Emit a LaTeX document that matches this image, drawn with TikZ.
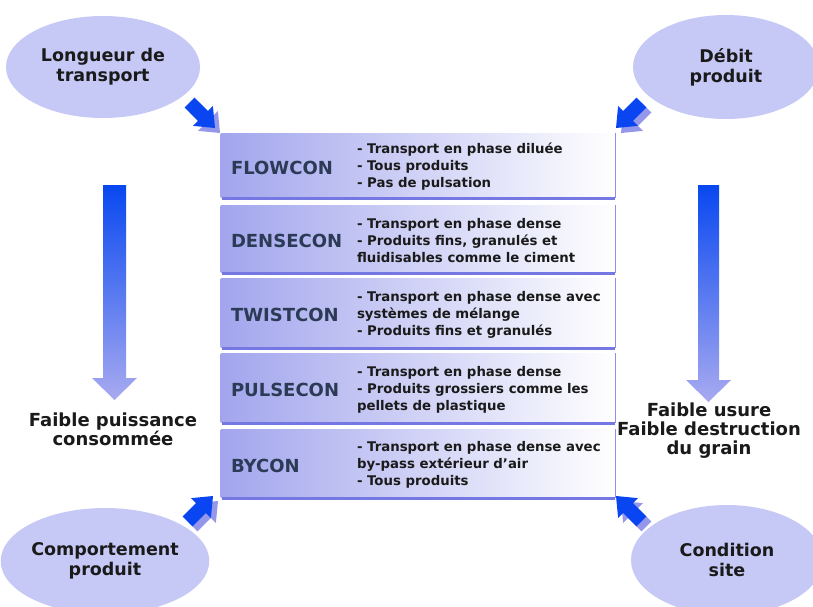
\documentclass[tikz,border=0pt]{standalone}
\usepackage{fontspec}
\defaultfontfeatures{}
\setmainfont{DejaVu Sans}
\usetikzlibrary{shapes.geometric}
\definecolor{ellc}{HTML}{C6C8F5}
\definecolor{arrblue}{HTML}{0A45F2}
\definecolor{arrshadow}{HTML}{9598EA}
\definecolor{boxleft}{HTML}{A2A5ED}
\definecolor{edgebottom}{HTML}{7577E3}
\definecolor{edgeright}{HTML}{8D8FE8}
\definecolor{namec}{HTML}{2B3A55}
\definecolor{txtc}{HTML}{1A1A1A}
\definecolor{vtop}{HTML}{0848F0}
\definecolor{vbot}{HTML}{A8AAF0}
\tikzset{
  ell/.style={ellipse, fill=ellc, inner sep=0pt, align=center, text=txtc,
    font=\bfseries\fontsize{17.5}{20}\selectfont},
  prodbox/.style={rectangle, inner sep=0pt, minimum width=395pt,
    left color=boxleft, right color=white, rounded corners=2pt},
  boxedge/.style={line width=1.4pt, edgeright},
  boxbottom/.style={line width=3pt, edgebottom},
  pname/.style={anchor=west, inner sep=0pt, text=namec,
    font=\bfseries\fontsize{18}{20}\selectfont},
  pdesc/.style={anchor=west, inner sep=0pt, align=left, text=txtc,
    font=\bfseries\fontsize{13.3}{17}\selectfont},
  sidetext/.style={align=center, inner sep=0pt, text=txtc,
    font=\bfseries\fontsize{18}{19}\selectfont}
}
\newcommand{\arrowpath}{(0,0) -- (-17,-14) -- (-17,-7) -- (-36,-7) -- (-36,7) -- (-17,7) -- (-17,14) -- cycle}
\newcommand{\diagarrow}[2]{%
  \begin{scope}[shift={(#1)}]
    \begin{scope}[shift={(5,5)}, rotate=#2]
      \fill[arrshadow] \arrowpath;
    \end{scope}
    \begin{scope}[rotate=#2]
      \fill[arrblue] \arrowpath;
    \end{scope}
  \end{scope}}
\begin{document}
\begin{tikzpicture}[x=1pt,y=-1pt]
\useasboundingbox (0,0) rectangle (813,606);
\fill[white] (0,0) rectangle (813,606);

% ellipses
\node[ell, minimum width=194pt, minimum height=102pt] (e1) at (103,67) {Longueur de\\transport};
\node[ell, minimum width=186pt, minimum height=104pt] (e2) at (726,67) {Débit\\produit};
\node[ell, minimum width=196pt, minimum height=106pt] (e3) at (105,561) {Comportement\\produit};
\node[ell, minimum width=192pt, minimum height=110pt] (e4) at (727,560) {Condition\\site};

% product boxes
\foreach \n/\yc/\h in {b1/165.5/65, b2/239/68, b3/313/70, b4/388/70, b5/463.5/69}{
  \node[prodbox, minimum height=\h pt] (\n) at (417.5,\yc) {};
  \draw[boxedge] (\n.north east) -- (\n.south east);
  \draw[boxbottom] ([xshift=2pt]\n.south west) -- (\n.south east);
}

\node[pname] (n1) at ([xshift=11pt,yshift=-2pt]b1.west) {FLOWCON};
\node[pname] (n2) at ([xshift=11pt,yshift=-2pt]b2.west) {DENSECON};
\node[pname] (n3) at ([xshift=11pt,yshift=-2pt]b3.west) {TWISTCON};
\node[pname] (n4) at ([xshift=11pt,yshift=-2pt]b4.west) {PULSECON};
\node[pname] (n5) at ([xshift=11pt,yshift=-2pt]b5.west) {BYCON};

\node[pdesc] (d1) at ([xshift=137pt,yshift=-1.5pt]b1.west) {- Transport en phase diluée\\- Tous produits\\- Pas de pulsation};
\node[pdesc] (d2) at ([xshift=137pt,yshift=-1.5pt]b2.west) {- Transport en phase dense\\- Produits fins, granulés et\\fluidisables comme le ciment};
\node[pdesc] (d3) at ([xshift=137pt,yshift=-1.5pt]b3.west) {- Transport en phase dense avec\\systèmes de mélange\\- Produits fins et granulés};
\node[pdesc] (d4) at ([xshift=137pt,yshift=-1.5pt]b4.west) {- Transport en phase dense\\- Produits grossiers comme les\\pellets de plastique};
\node[pdesc] (d5) at ([xshift=137pt,yshift=-1.5pt]b5.west) {- Transport en phase dense avec\\by-pass extérieur d'air\\- Tous produits};

% diagonal arrows
\diagarrow{215,128}{-45}
\diagarrow{616,128}{-135}
\diagarrow{213,496}{45}
\diagarrow{616,496}{135}

% vertical gradient arrows
\shade[top color=vtop, bottom color=vbot]
  (103,185) -- (126,185) -- (126,378) -- (137,378) -- (114.5,400) -- (92,378) -- (103,378) -- cycle;
\shade[top color=vtop, bottom color=vbot]
  (698,185) -- (719,185) -- (719,380) -- (731,380) -- (708.5,402) -- (686,380) -- (698,380) -- cycle;

\node[sidetext] (s1) at (113,429) {Faible puissance\\consommée};
\node[sidetext] (s2) at (709,431) {Faible usure\\Faible destruction\\du grain};
\end{tikzpicture}
\end{document}
